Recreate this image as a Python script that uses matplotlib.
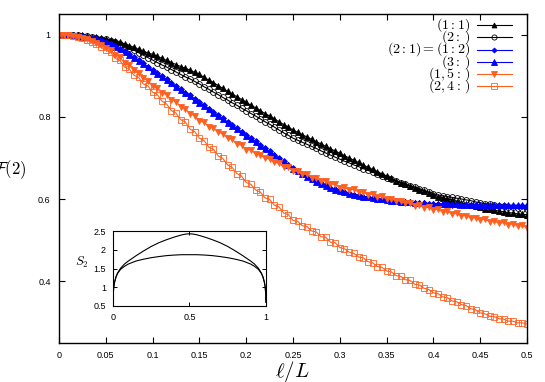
import numpy as np
import matplotlib
matplotlib.use('Agg')
import matplotlib.pyplot as plt

plt.rcParams['font.family'] = ['Liberation Sans', 'DejaVu Sans']
plt.rcParams['mathtext.fontset'] = 'cm'

# ell/L grid: ell = 0..100, L = 200
ell = np.arange(101)
L = 200
x = ell / L

f_11 = [1.000, 1.000, 1.000, .999, .998, .998, .996, .995, .994, .992,
        .990, .987, .984, .981, .977, .973, .969, .964, .960, .955,
        .952, .947, .942, .937, .932, .927, .922, .918, .913, .908,
        .903, .896, .889, .883, .876, .869, .862, .855, .849, .842,
        .835, .828, .822, .815, .808, .802, .795, .788, .781, .775,
        .768, .762, .756, .751, .745, .739, .734, .728, .722, .717,
        .711, .705, .700, .694, .689, .683, .677, .672, .666, .661,
        .655, .650, .645, .640, .636, .632, .627, .623, .619, .614,
        .610, .606, .603, .600, .597, .594, .591, .588, .586, .583,
        .580, .577, .575, .573, .571, .569, .567, .566, .564, .563,
        .562]

f_2 = [1.000, 1.000, .999, .999, .998, .997, .996, .994, .992, .990,
       .988, .985, .981, .977, .972, .967, .962, .956, .950, .944,
       .938, .932, .926, .921, .915, .909, .903, .897, .892, .886,
       .880, .873, .867, .860, .854, .847, .841, .834, .828, .821,
       .815, .808, .802, .795, .788, .782, .775, .768, .761, .755,
       .748, .743, .738, .733, .728, .723, .717, .712, .707, .702,
       .697, .692, .688, .683, .679, .674, .670, .665, .661, .656,
       .652, .648, .644, .640, .636, .632, .629, .625, .621, .617,
       .613, .610, .608, .606, .604, .602, .600, .598, .596, .593,
       .591, .589, .588, .586, .584, .583, .581, .580, .578, .577,
       .575]

f_21 = [1.000, 1.000, .999, .998, .997, .996, .994, .992, .989, .986,
        .983, .978, .972, .966, .959, .952, .945, .938, .930, .922,
        .914, .906, .898, .891, .883, .875, .867, .859, .852, .844,
        .836, .828, .820, .812, .804, .796, .788, .780, .772, .764,
        .756, .748, .740, .732, .724, .716, .708, .700, .692, .684,
        .676, .669, .662, .655, .649, .643, .638, .633, .628, .624,
        .621, .617, .614, .611, .609, .606, .604, .602, .600, .599,
        .597, .596, .595, .594, .593, .592, .591, .590, .590, .589,
        .588, .588, .587, .587, .586, .586, .586, .585, .585, .585,
        .584, .584, .584, .584, .584, .583, .583, .583, .583, .583,
        .583]

f_3 = [1.000, 1.000, .999, .998, .997, .995, .993, .991, .988, .985,
       .981, .976, .970, .964, .957, .950, .943, .936, .928, .920,
       .912, .904, .896, .889, .881, .873, .865, .857, .850, .842,
       .834, .826, .818, .810, .802, .794, .786, .778, .770, .762,
       .754, .746, .738, .730, .722, .714, .706, .698, .690, .682,
       .674, .667, .660, .654, .648, .642, .637, .632, .627, .623,
       .620, .616, .613, .611, .608, .606, .604, .602, .600, .599,
       .597, .596, .595, .594, .593, .592, .591, .591, .590, .589,
       .589, .588, .588, .587, .587, .587, .586, .586, .586, .586,
       .585, .585, .585, .585, .585, .585, .585, .585, .585, .585,
       .585]

f_15 = [1.000, 1.000, .999, .997, .995, .992, .989, .984, .980, .974,
        .968, .963, .950, .945, .931, .926, .913, .907, .894, .888,
        .875, .871, .858, .854, .841, .837, .824, .820, .807, .803,
        .790, .787, .776, .773, .762, .759, .748, .745, .734, .731,
        .720, .719, .710, .708, .699, .698, .689, .687, .678, .677,
        .668, .668, .660, .660, .652, .652, .644, .644, .636, .636,
        .628, .629, .622, .624, .617, .618, .611, .612, .606, .607,
        .600, .601, .595, .596, .590, .591, .584, .586, .579, .581,
        .574, .575, .569, .570, .564, .565, .559, .560, .554, .555,
        .549, .551, .545, .547, .541, .543, .538, .540, .534, .536,
        .530]

f_24 = [1.000, 1.000, .999, .997, .994, .991, .986, .981, .976, .969,
        .962, .957, .942, .937, .921, .916, .901, .896, .880, .875,
        .860, .854, .838, .831, .815, .809, .793, .787, .770, .764,
        .748, .742, .726, .721, .705, .699, .683, .677, .662, .656,
        .640, .636, .622, .617, .603, .599, .585, .581, .566, .562,
        .548, .546, .535, .533, .522, .520, .508, .507, .495, .494,
        .482, .479, .471, .468, .459, .457, .448, .445, .436, .434,
        .425, .423, .414, .412, .404, .402, .393, .391, .383, .380,
        .372, .370, .362, .360, .352, .350, .343, .341, .333, .331,
        .323, .321, .315, .314, .309, .308, .303, .303, .299, .299,
        .296]

labels = [r'$(1:1)$', r'$(2:\,)$', r'$(2:1)=(1:2)$', r'$(3:\,)$', r'$(1,5:\,)$', r'$(2,4:\,)$']

# inset: S_2 vs x
x_in = [0, .002, .005, .01, .02, .03, .05, .075, .1, .125, .15, .2, .25, .3, .35, .4, .45, .475, .5,
        .525, .55, .6, .65, .7, .75, .8, .85, .875, .9, .925, .95, .97, .98, .99, .995, .998, 1]
s2_top = [.6, .85, 1.0, 1.13, 1.28, 1.38, 1.51, 1.62, 1.70, 1.77, 1.84, 1.97, 2.09, 2.19, 2.27, 2.34, 2.40, 2.42, 2.43,
          2.42, 2.40, 2.34, 2.27, 2.19, 2.09, 1.97, 1.84, 1.77, 1.70, 1.62, 1.51, 1.38, 1.28, 1.13, 1.0, .85, .6]
s2_low = [.6, .85, 1.0, 1.13, 1.28, 1.37, 1.48, 1.56, 1.62, 1.66, 1.70, 1.75, 1.79, 1.82, 1.845, 1.86, 1.87, 1.87, 1.87,
          1.87, 1.87, 1.86, 1.845, 1.82, 1.79, 1.75, 1.70, 1.66, 1.62, 1.56, 1.48, 1.37, 1.28, 1.13, 1.0, .85, .6]

orange = '#ff6020'
styles = [
    dict(color='black', marker='^', mfc='black', ms=4),
    dict(color='black', marker='o', mfc='none', ms=4.2),
    dict(color='blue', marker='D', mfc='blue', ms=3),
    dict(color='blue', marker='^', mfc='blue', ms=4.2),
    dict(color=orange, marker='v', mfc=orange, ms=4.2),
    dict(color=orange, marker='s', mfc='none', ms=4.5),
]
series = [f_11, f_2, f_21, f_3, f_15, f_24]

fig = plt.figure(figsize=(5.45, 3.82), dpi=100)
ax = fig.add_axes([0.1083, 0.1021, 0.8587, 0.8613])

for ys, st in zip(series, styles):
    ax.plot(x, ys, lw=0.8, mew=0.6, **st)

ax.set_xlim(0, 0.5)
ax.set_ylim(0.25, 1.05)
ax.set_xticks(np.arange(0, 0.501, 0.05))
ax.set_xticklabels(['0', '0.05', '0.1', '0.15', '0.2', '0.25', '0.3', '0.35', '0.4', '0.45', '0.5'])
ax.set_yticks([0.4, 0.6, 0.8, 1.0])
ax.set_yticklabels(['0.4', '0.6', '0.8', '1'])
ax.tick_params(direction='in', top=True, right=True, length=4, width=0.8,
               labelsize=6.5, pad=6)
for sp in ax.spines.values():
    sp.set_linewidth(1.0)

fig.text(292 / 545, 1 - 371 / 382, r'$\ell/L$', fontsize=15, ha='center', va='center')
fig.text(27 / 545, 1 - 170 / 382, r'$\mathcal{F}(2)$', fontsize=12, ha='right', va='center')

# gnuplot-style key: right-aligned labels, sample line to the right
x_txt, x0, x1 = 0.878, 0.893, 0.968
for i, (lab, st) in enumerate(zip(labels, styles)):
    yk = 0.9666 - i * 0.0373
    ax.text(x_txt, yk, lab, transform=ax.transAxes, ha='right', va='center', fontsize=10)
    ax.plot([x0, x1], [yk, yk], transform=ax.transAxes, color=st['color'], lw=0.8, clip_on=False)
    ax.plot([(x0 + x1) / 2], [yk], transform=ax.transAxes, ls='none', marker=st['marker'],
            color=st['color'], mfc=st['mfc'], ms=st['ms'] - 0.5, mew=0.6, clip_on=False)

# inset
axi = fig.add_axes([0.2073, 0.199, 0.2807, 0.196])
axi.plot(x_in, s2_top, color='black', lw=0.8)
axi.plot(x_in, s2_low, color='black', lw=0.8)
axi.set_xlim(0, 1)
axi.set_ylim(0.5, 2.5)
axi.set_xticks([0, 0.5, 1])
axi.set_xticklabels(['0', '0.5', '1'])
axi.set_yticks([0.5, 1, 1.5, 2, 2.5])
axi.set_yticklabels(['0.5', '1', '1.5', '2', '2.5'])
axi.tick_params(direction='in', top=True, right=True, length=3, width=0.7,
                labelsize=6.5, pad=5)
for sp in axi.spines.values():
    sp.set_linewidth(0.8)
fig.text(82 / 545, 1 - 262 / 382, r'$S_2$', fontsize=9, ha='center', va='center')

fig.savefig('out.png', dpi=100)
